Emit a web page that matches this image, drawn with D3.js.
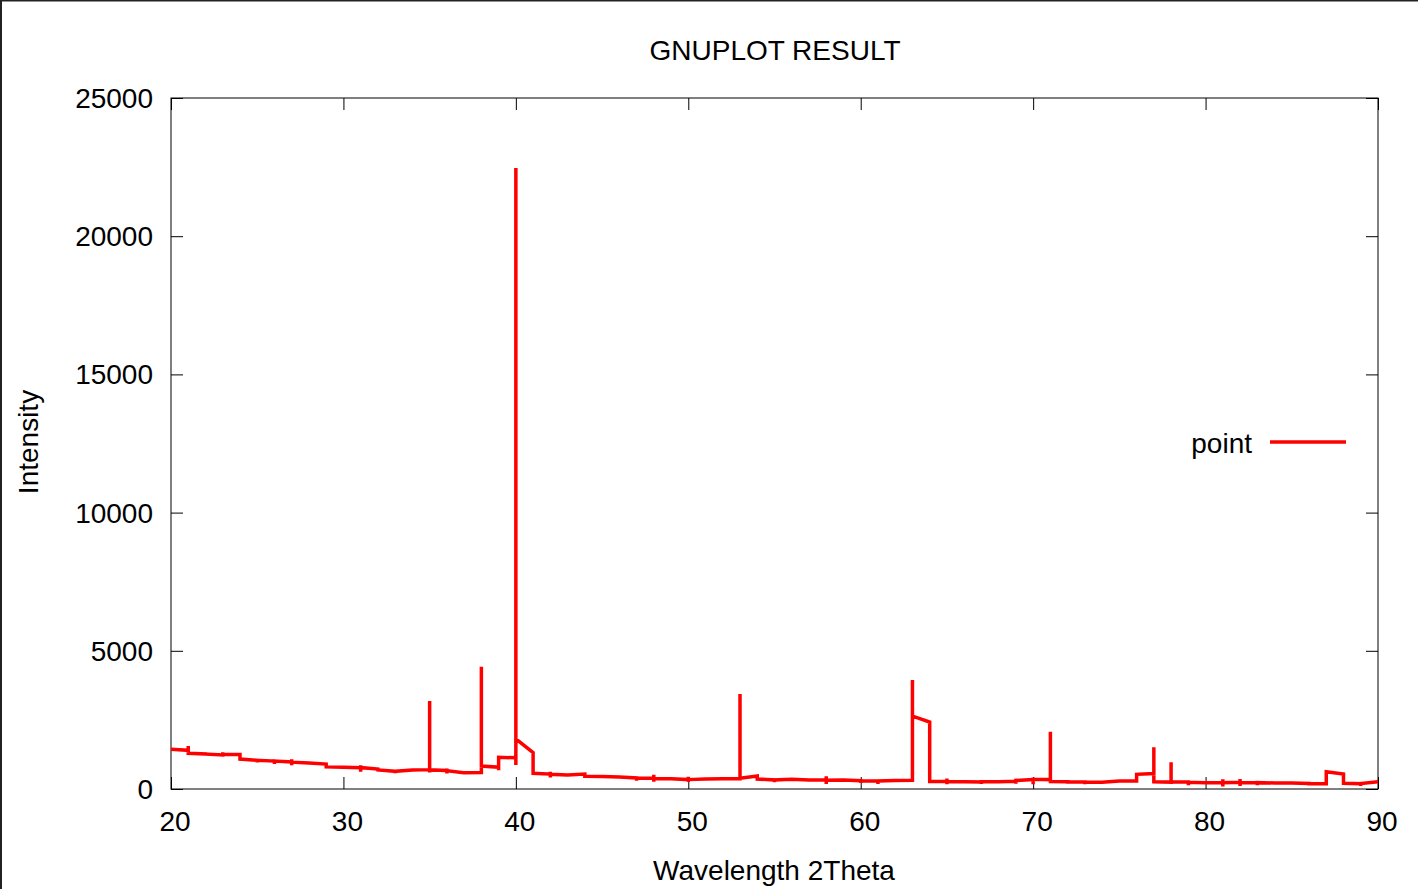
<!DOCTYPE html>
<html>
<head>
<meta charset="utf-8">
<script src="https://cdn.jsdelivr.net/npm/d3@7"></script>
<style>
  html, body { margin: 0; padding: 0; background: #fff; }
  svg { display: block; }
  text { font-family: "Liberation Sans", Arial, sans-serif; fill: #000; }
</style>
</head>
<body>
<svg id="chart" width="1418" height="889"></svg>
<script>
// ---- data ----
const chartTitle = "GNUPLOT RESULT";
const xLabel = "Wavelength 2Theta";
const yLabel = "Intensity";
const seriesName = "point";

const xTicks = [20, 30, 40, 50, 60, 70, 80, 90];
const yTicks = [0, 5000, 10000, 15000, 20000, 25000];

// 2Theta positions (degrees)
const twoTheta = [20,21,22,23,24,25,26,27,28,29,30,31,32,33,34,35,36,37,38,39,
                  40,41,42,43,44,45,46,47,48,49,50,51,52,53,54,55,56,57,58,59,
                  60,61,62,63,64,65,66,67,68,69,70,71,72,73,74,75,76,77,78,79,
                  80,81,82,83,84,85,86,87,88,89,90];

// intensities visited (in order) at each 2Theta position
const intensity = [
  [1436],
  [1400, 1560, 1290],
  [1265, 1200, 1265],
  [1230, 1330, 1250],
  [1250, 1085],
  [1040, 960, 1040],
  [1010, 900, 1010],
  [980, 860, 1080, 970],
  [940],
  [900, 800],
  [790],
  [770, 620, 860, 775],
  [720, 690],
  [640, 700, 640],
  [690],
  [700, 3184, 600, 690],
  [670, 560, 740, 660],
  [590, 530, 590],
  [600, 4425, 830],
  [790, 680, 1145],
  [1130, 870, 22467, 1810],
  [1315, 567],
  [540, 420, 620, 530],
  [510],
  [540, 460],
  [450],
  [430],
  [400, 300, 400],
  [390, 520, 260, 380],
  [370],
  [340, 440, 250, 340],
  [360],
  [370],
  [370, 3437, 386],
  [470, 360],
  [330, 240, 330],
  [350],
  [330],
  [330, 460, 180, 320],
  [330],
  [300, 220, 300],
  [290, 180, 290],
  [310],
  [320, 3944, 2640],
  [2420, 270],
  [270, 380, 170, 260],
  [260],
  [250, 180, 260],
  [260],
  [280, 190, 310],
  [340, 420, 170, 350],
  [340, 2075, 270],
  [260, 190, 260],
  [250, 170, 250],
  [240],
  [290],
  [290, 530],
  [560, 1508, 265],
  [250, 965, 250],
  [250, 140, 240],
  [230],
  [230, 350, 90, 230],
  [240, 360, 110, 230],
  [230, 140, 230],
  [220],
  [220],
  [200, 130, 200],
  [190, 627],
  [543, 205],
  [190, 110, 200],
  [265]
];

// ---- drawing ----
(function draw() {
const svg = d3.select("#chart");
const W = 1418, H = 889;
const mL = 171, mR = 1378, mT = 98, mB = 789;

const x = d3.scaleLinear().domain([20, 90]).range([mL, mR]);
const y = d3.scaleLinear().domain([0, 25000]).range([mB, mT]);

svg.append("rect").attr("width", W).attr("height", H).attr("fill", "#fff");

// dark outer edge (top and left) as in the screenshot
svg.append("rect").attr("x", 0).attr("y", 0).attr("width", W).attr("height", 1.5).attr("fill", "#222");
svg.append("rect").attr("x", 0).attr("y", 0).attr("width", 2).attr("height", H).attr("fill", "#222");

const tickLen = 12;

const xAxisB = d3.axisBottom(x).tickValues(xTicks).tickSize(-tickLen).tickFormat("");
svg.append("g").attr("transform", `translate(0,${mB})`).call(xAxisB)
  .call(g => g.select(".domain").remove());
const xAxisT = d3.axisTop(x).tickValues(xTicks).tickSize(-tickLen).tickFormat("");
svg.append("g").attr("transform", `translate(0,${mT})`).call(xAxisT)
  .call(g => g.select(".domain").remove());
const yAxisL = d3.axisLeft(y).tickValues(yTicks).tickSize(-tickLen).tickFormat("");
svg.append("g").attr("transform", `translate(${mL},0)`).call(yAxisL)
  .call(g => g.select(".domain").remove());
const yAxisR = d3.axisRight(y).tickValues(yTicks).tickSize(-tickLen).tickFormat("");
svg.append("g").attr("transform", `translate(${mR},0)`).call(yAxisR)
  .call(g => g.select(".domain").remove());

svg.selectAll(".tick line").attr("stroke", "#000").attr("stroke-width", 1);

svg.append("rect")
  .attr("x", mL).attr("y", mT)
  .attr("width", mR - mL).attr("height", mB - mT)
  .attr("fill", "none").attr("stroke", "#000").attr("stroke-width", 1);

svg.append("g").selectAll("text").data(xTicks).join("text")
  .attr("x", d => x(d) + 4).attr("y", 831)
  .attr("text-anchor", "middle").attr("font-size", 28)
  .text(d => d);

svg.append("g").selectAll("text").data(yTicks).join("text")
  .attr("x", 153).attr("y", d => y(d))
  .attr("dy", "0.36em")
  .attr("text-anchor", "end").attr("font-size", 28)
  .text(d => d);

svg.append("text").attr("x", 775).attr("y", 50).attr("dy", "0.36em")
  .attr("text-anchor", "middle").attr("font-size", 28).text(chartTitle);

svg.append("text").attr("x", 774).attr("y", 870).attr("dy", "0.36em")
  .attr("text-anchor", "middle").attr("font-size", 28).text(xLabel);

svg.append("text")
  .attr("transform", "translate(28,442) rotate(-90)")
  .attr("dy", "0.36em")
  .attr("text-anchor", "middle").attr("font-size", 28).text(yLabel);

const pts = [];
twoTheta.forEach((t, i) => intensity[i].forEach(v => pts.push([t, v])));

const line = d3.line().x(d => x(d[0])).y(d => y(d[1]));

svg.append("path")
  .datum(pts)
  .attr("d", line)
  .attr("fill", "none")
  .attr("stroke", "#ff0000")
  .attr("stroke-width", 3.5)
  .attr("stroke-linejoin", "miter")
  .attr("stroke-miterlimit", 4);

svg.append("text").attr("x", 1252).attr("y", 443).attr("dy", "0.36em")
  .attr("text-anchor", "end").attr("font-size", 28).text(seriesName);
svg.append("line")
  .attr("x1", 1270).attr("x2", 1346).attr("y1", 442).attr("y2", 442)
  .attr("stroke", "#ff0000").attr("stroke-width", 3.5);
})();
</script>
</body>
</html>
